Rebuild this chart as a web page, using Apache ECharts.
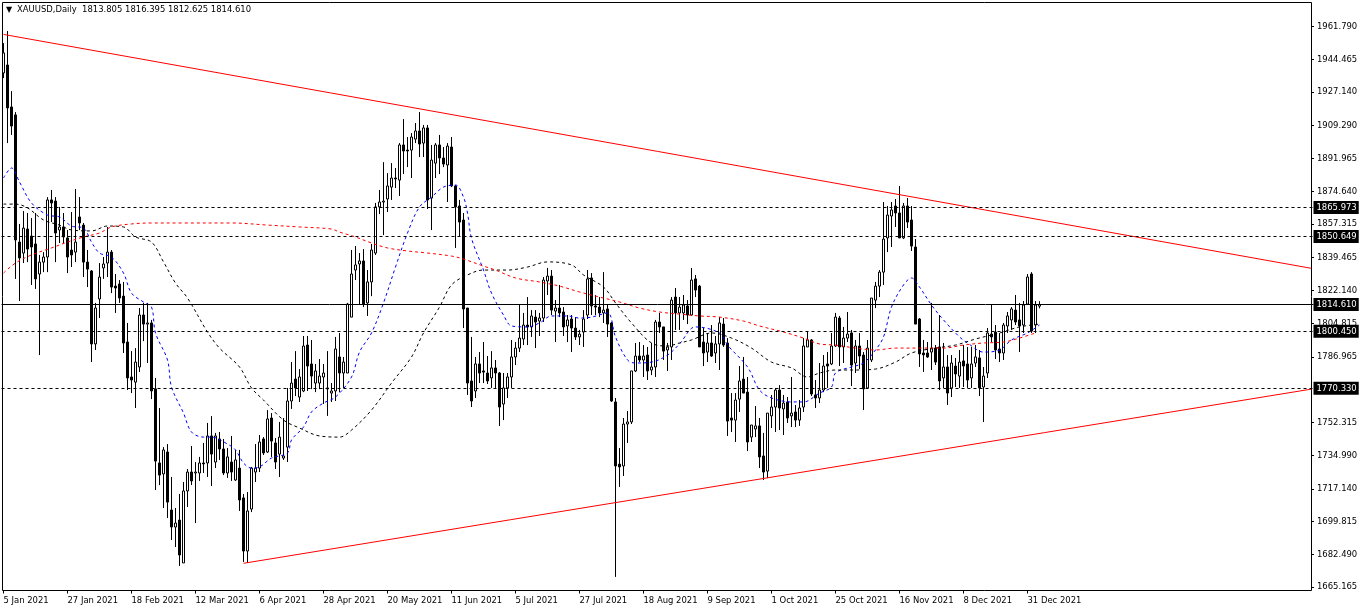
<!DOCTYPE html>
<html>
<head>
<meta charset="utf-8">
<title>XAUUSD,Daily</title>
<script src="https://cdn.jsdelivr.net/npm/echarts@6/dist/echarts.min.js"></script>
<style>
  html, body { margin: 0; padding: 0; background: #fff; }
  #chart { width: 1362px; height: 611px; }
</style>
</head>
<body>
<div id="chart"></div>
<script>
// tick labels
const dateLabels = ['5 Jan 2021', '27 Jan 2021', '18 Feb 2021', '12 Mar 2021', '6 Apr 2021', '28 Apr 2021', '20 May 2021', '11 Jun 2021', '5 Jul 2021', '27 Jul 2021', '18 Aug 2021', '9 Sep 2021', '1 Oct 2021', '25 Oct 2021', '16 Nov 2021', '8 Dec 2021', '31 Dec 2021'];
const priceTicks = [1961.79, 1944.465, 1927.14, 1909.29, 1891.965, 1874.64, 1857.315, 1839.465, 1822.14, 1804.815, 1786.965, 1752.315, 1734.99, 1717.14, 1699.815, 1682.49, 1665.165];

// levels drawn across the chart
const dashedLevels = [1865.973, 1850.649, 1800.45, 1770.33];
const lastPrice = 1814.61;

// daily bars: open, close, low, high
const ohlc = [
  [1937.2,1947.8,1934.5,1953.0],[1941.4,1918.7,1900.1,1959.4],[1919.2,1909.1,1904.4,1927.6],[1915.0,1848.8,1828.2,1916.5],
  [1847.7,1839.3,1816.5,1857.3],[1841.9,1855.1,1836.6,1864.1],[1854.6,1844.0,1837.1,1863.1],[1850.9,1845.1,1825.0,1860.4],
  [1846.7,1828.2,1822.9,1863.1],[1830.8,1837.1,1787.9,1840.9],[1837.1,1839.8,1831.8,1842.4],[1839.8,1870.0,1831.8,1871.5],
  [1870.0,1868.4,1858.3,1875.3],[1869.4,1852.5,1837.1,1871.5],[1854.1,1855.7,1847.2,1866.3],[1855.7,1850.4,1847.2,1863.1],
  [1849.9,1839.8,1831.3,1854.1],[1843.5,1840.9,1834.5,1863.6],[1842.4,1847.7,1837.1,1875.8],[1861.0,1857.8,1854.1,1871.5],
  [1856.7,1837.1,1829.2,1857.8],[1837.1,1833.4,1823.9,1843.5],[1832.4,1793.8,1784.2,1832.9],[1793.8,1812.8,1790.6,1815.5],
  [1817.6,1829.2,1807.5,1836.6],[1834.0,1836.1,1828.2,1839.8],[1836.6,1842.4,1829.2,1855.7],[1842.4,1823.9,1820.7,1843.5],
  [1824.4,1823.4,1810.2,1830.8],[1825.5,1818.1,1815.5,1827.6],[1819.1,1794.3,1789.0,1826.6],[1794.8,1775.8,1769.4,1804.9],
  [1776.3,1774.7,1767.8,1790.0],[1773.6,1784.2,1759.9,1791.6],[1781.6,1809.1,1778.9,1812.8],[1809.1,1804.3,1795.3,1815.5],
  [1804.3,1804.9,1783.7,1815.5],[1804.9,1768.9,1764.6,1806.5],[1770.0,1731.8,1716.5,1775.8],[1730.8,1724.4,1719.1,1759.9],
  [1725.0,1737.7,1707.0,1739.2],[1736.6,1710.1,1701.7,1740.8],[1705.9,1696.9,1690.0,1723.4],[1696.9,1699.0,1686.3,1707.0],
  [1700.6,1682.1,1676.3,1714.4],[1677.9,1716.0,1677.9,1720.7],[1716.0,1726.0,1707.5,1727.6],[1726.0,1721.3,1719.1,1739.8],
  [1725.5,1726.0,1699.0,1731.3],[1725.5,1730.8,1721.3,1734.0],[1730.8,1730.3,1725.5,1741.4],[1730.8,1745.1,1723.4,1752.0],
  [1745.1,1735.5,1718.6,1755.6],[1731.3,1745.1,1728.1,1746.7],[1743.5,1738.2,1732.4,1747.2],[1738.2,1725.5,1724.4,1743.5],
  [1725.5,1734.0,1722.9,1738.7],[1731.3,1726.0,1721.3,1745.1],[1721.8,1732.4,1721.3,1737.7],[1728.1,1711.2,1705.4,1737.7],
  [1712.3,1684.2,1678.4,1714.4],[1684.2,1705.4,1677.9,1715.4],[1706.4,1728.1,1704.8,1728.7],[1726.0,1728.1,1720.7,1740.8],
  [1728.1,1741.9,1726.0,1745.6],[1743.5,1736.1,1735.0,1744.5],[1736.6,1754.1,1736.1,1758.8],[1754.6,1742.4,1734.0,1757.2],
  [1741.4,1731.3,1727.6,1744.0],[1735.5,1744.5,1723.4,1752.5],[1733.4,1734.5,1732.4,1754.6],[1739.2,1763.6,1731.3,1770.5],
  [1763.6,1773.1,1759.4,1784.2],[1775.2,1770.5,1766.2,1790.0],[1765.7,1776.3,1763.1,1780.5],[1768.9,1792.7,1768.3,1798.0],
  [1793.2,1782.1,1768.9,1798.0],[1783.2,1776.8,1769.9,1795.9],[1773.1,1779.5,1768.3,1783.2],[1773.1,1776.8,1769.9,1785.8],
  [1776.3,1778.4,1762.0,1783.2],[1770.5,1770.0,1755.7,1790.0],[1767.8,1768.9,1763.1,1773.1],[1768.9,1791.1,1763.6,1797.5],
  [1786.9,1778.4,1768.3,1799.6],[1778.4,1784.2,1770.5,1786.9],[1778.4,1814.9,1778.4,1815.5],[1808.0,1830.8,1808.0,1843.5],
  [1832.9,1835.6,1827.6,1845.6],[1836.1,1837.7,1814.9,1841.9],[1837.7,1814.9,1813.3,1844.0],[1815.5,1826.6,1808.6,1832.9],
  [1826.6,1843.5,1819.1,1846.7],[1841.9,1866.3,1840.9,1868.4],[1866.3,1868.9,1862.5,1875.3],[1868.9,1869.4,1851.4,1890.0],
  [1870.5,1877.4,1863.6,1884.2],[1876.8,1881.6,1870.0,1889.5],[1881.6,1881.1,1876.3,1886.9],[1880.5,1899.1,1872.1,1900.1],
  [1899.1,1895.9,1883.7,1912.8],[1896.4,1895.9,1887.4,1903.3],[1896.4,1903.3,1881.6,1905.4],[1902.2,1906.5,1900.1,1910.7],
  [1906.5,1899.6,1892.7,1916.5],[1900.1,1908.1,1892.7,1909.7],[1908.1,1870.0,1865.2,1909.7],[1871.0,1891.1,1854.1,1899.1],
  [1889.5,1899.1,1881.6,1900.1],[1899.1,1892.2,1883.7,1904.4],[1892.2,1889.0,1887.4,1898.0],[1888.5,1898.5,1868.9,1900.1],
  [1898.0,1877.4,1876.8,1903.3],[1877.4,1866.3,1844.6,1877.9],[1866.8,1858.3,1850.9,1870.0],[1859.4,1812.3,1802.2,1863.1],
  [1812.8,1773.1,1766.8,1812.8],[1774.2,1763.6,1760.4,1797.5],[1768.9,1783.2,1765.2,1786.9],[1783.2,1778.4,1773.1,1789.5],
  [1779.5,1778.9,1773.1,1794.8],[1778.4,1774.2,1772.6,1787.4],[1775.8,1781.1,1770.5,1790.0],[1781.1,1778.4,1770.5,1785.3],
  [1778.4,1760.4,1750.4,1778.9],[1762.0,1770.5,1753.5,1778.4],[1770.5,1776.3,1765.2,1778.4],[1776.3,1786.9,1770.5,1795.9],
  [1786.9,1791.6,1782.6,1794.8],[1791.6,1796.9,1789.5,1814.4],[1796.4,1803.8,1793.2,1810.2],[1803.8,1802.8,1793.2,1818.6],
  [1802.8,1808.6,1797.5,1811.7],[1808.0,1805.4,1791.6,1811.7],[1805.9,1807.5,1798.0,1810.2],[1807.5,1827.6,1805.4,1829.2],
  [1827.1,1829.7,1819.7,1834.0],[1829.7,1811.7,1809.1,1832.9],[1811.2,1812.8,1794.8,1817.0],[1812.8,1810.2,1808.0,1825.0],
  [1810.7,1802.8,1798.0,1813.3],[1803.3,1806.5,1794.8,1809.1],[1807.0,1802.2,1789.5,1809.1],[1802.2,1797.5,1795.9,1808.0],
  [1797.5,1799.0,1793.2,1801.2],[1800.1,1807.0,1792.2,1811.7],[1809.1,1828.2,1807.0,1832.9],[1828.7,1813.9,1809.1,1831.3],
  [1813.9,1813.3,1809.1,1819.7],[1813.3,1810.2,1808.0,1818.6],[1810.2,1811.7,1804.9,1831.8],[1812.3,1804.3,1797.5,1814.4],
  [1804.9,1763.6,1763.1,1805.4],[1763.1,1729.2,1670.5,1765.2],[1730.2,1728.7,1718.1,1738.7],[1729.2,1751.4,1723.9,1754.6],
  [1751.4,1752.5,1741.4,1758.3],[1752.5,1779.5,1751.4,1779.5],[1779.5,1787.4,1778.9,1794.3],[1787.4,1785.3,1784.2,1794.8],
  [1785.3,1787.4,1776.3,1793.2],[1787.9,1779.5,1774.7,1792.2],[1780.0,1781.6,1777.3,1794.3],[1781.6,1805.4,1776.3,1806.5],
  [1805.4,1802.8,1799.6,1810.2],[1802.8,1790.0,1785.3,1802.8],[1790.6,1792.2,1779.5,1794.3],[1792.2,1817.0,1785.3,1818.6],
  [1818.6,1810.2,1801.2,1823.4],[1810.2,1813.3,1801.2,1818.6],[1810.2,1814.4,1806.5,1819.7],[1813.9,1809.1,1804.3,1817.0],
  [1809.1,1827.6,1808.6,1834.0],[1828.2,1822.3,1818.6,1830.3],[1824.4,1792.2,1792.2,1825.0],[1794.8,1789.0,1782.1,1802.2],
  [1789.5,1794.3,1784.2,1799.6],[1794.3,1787.4,1786.9,1803.8],[1789.0,1793.8,1783.7,1798.0],[1793.8,1804.9,1780.0,1808.0],
  [1804.3,1793.2,1792.2,1807.5],[1794.3,1753.0,1745.1,1796.9],[1754.6,1753.5,1747.2,1767.8],[1753.5,1764.1,1741.9,1767.8],
  [1764.6,1774.2,1757.8,1782.1],[1775.2,1767.8,1767.8,1786.9],[1768.3,1741.9,1737.1,1776.3],[1744.5,1750.9,1741.9,1750.9],
  [1748.8,1750.4,1744.5,1760.9],[1750.4,1734.0,1728.1,1754.6],[1734.5,1726.0,1721.8,1746.7],[1726.5,1757.2,1722.8,1757.2],
  [1755.7,1760.4,1749.3,1766.8],[1760.4,1769.4,1747.2,1770.5],[1769.4,1759.9,1748.2,1772.0],[1759.4,1762.5,1745.6,1766.8],
  [1763.1,1754.6,1752.0,1765.7],[1755.7,1757.2,1749.8,1776.3],[1757.8,1753.5,1749.8,1761.5],[1753.5,1759.9,1750.4,1764.1],
  [1760.4,1792.7,1757.8,1796.9],[1792.2,1795.9,1792.2,1800.6],[1795.9,1767.3,1766.2,1796.4],[1766.8,1765.2,1759.9,1774.7],
  [1765.2,1769.4,1762.5,1783.7],[1769.4,1782.1,1768.3,1787.9],[1783.2,1782.1,1770.5,1789.5],[1783.2,1792.7,1782.6,1799.6],
  [1792.7,1808.0,1792.2,1810.2],[1807.5,1792.2,1782.1,1808.6],[1792.2,1796.9,1783.7,1802.8],[1796.9,1799.0,1794.8,1810.7],
  [1799.6,1782.6,1771.5,1801.2],[1783.7,1792.7,1778.4,1795.9],[1792.7,1787.4,1780.5,1799.6],[1787.9,1770.0,1758.8,1789.5],
  [1770.5,1791.6,1770.5,1795.9],[1785.3,1818.1,1784.2,1818.1],[1817.0,1824.4,1812.8,1826.6],[1824.4,1831.8,1818.6,1832.9],
  [1831.8,1849.3,1825.0,1868.9],[1849.9,1862.0,1842.4,1866.8],[1861.5,1864.7,1845.1,1868.9],[1866.8,1863.1,1855.7,1870.5],
  [1863.1,1849.9,1849.9,1877.4],[1849.9,1866.8,1849.3,1868.4],[1866.8,1858.3,1855.1,1871.0],[1859.4,1845.6,1843.0,1866.8],
  [1845.1,1804.3,1804.3,1849.3],[1807.0,1788.5,1781.6,1807.5],[1789.0,1788.0,1779.0,1795.9],[1789.0,1786.9,1786.4,1794.8],
  [1789.5,1791.6,1780.0,1815.5],[1791.6,1784.2,1782.6,1793.2],[1792.2,1774.2,1769.4,1809.1],[1775.8,1781.6,1770.5,1794.3],
  [1781.6,1767.8,1761.5,1787.9],[1770.5,1783.7,1765.7,1787.9],[1782.1,1777.9,1771.0,1786.4],[1776.8,1784.2,1770.5,1790.6],
  [1784.8,1782.1,1771.0,1793.2],[1783.2,1774.7,1770.5,1792.2],[1775.8,1783.2,1770.5,1792.2],[1783.7,1786.9,1781.6,1793.2],
  [1786.4,1770.5,1766.2,1790.6],[1771.0,1776.8,1752.5,1781.6],[1778.4,1799.6,1775.8,1802.2],[1799.0,1797.5,1794.8,1814.4],
  [1800.1,1790.6,1785.8,1803.8],[1791.1,1789.0,1784.2,1799.6],[1789.0,1803.8,1785.3,1804.9],[1803.3,1808.6,1799.6,1810.7],
  [1806.5,1812.3,1801.2,1813.3],[1811.7,1805.4,1803.8,1819.7],[1806.5,1803.3,1789.5,1815.5],[1803.8,1814.4,1799.6,1816.5],
  [1814.9,1829.2,1814.4,1830.8],[1830.8,1800.6,1799.6,1831.8],[1803.8,1814.4,1799.6,1816.5],[1813.805,1814.61,1812.625,1816.395]
];

// moving averages, sampled as [bar index, price]
const blueMA = [[0,1881.6],[2,1886.9],[4,1879.5],[7,1868.4],[11,1862.0],[14,1861.0],[17,1856.2],[20,1855.1],[22,1847.7],[24,1841.9],[27,1839.8],[30,1831.3],[32,1820.7],[35,1816.0],[37,1813.3],[38,1799.6],[41,1785.3],[42,1771.0],[45,1757.2],[47,1747.2],[50,1744.5],[52,1744.5],[56,1740.8],[58,1737.7],[60,1730.8],[62,1728.1],[64,1728.7],[67,1733.4],[71,1736.1],[72,1743.0],[75,1749.8],[77,1757.8],[80,1762.5],[83,1765.7],[87,1776.3],[89,1789.5],[92,1799.6],[95,1815.5],[98,1834.5],[101,1852.5],[104,1866.3],[107,1871.5],[110,1876.8],[113,1877.9],[115,1871.5],[116,1863.1],[117,1849.8],[120,1832.9],[122,1820.7],[125,1809.1],[127,1803.3],[131,1802.8],[134,1804.9],[137,1808.6],[141,1808.6],[144,1807.5],[147,1808.0],[151,1810.2],[153,1797.5],[156,1785.3],[158,1783.7],[162,1784.2],[166,1787.9],[169,1793.8],[173,1802.8],[179,1799.6],[181,1793.2],[186,1781.6],[189,1769.4],[192,1765.2],[197,1763.1],[200,1763.1],[204,1767.8],[207,1771.0],[208,1778.4],[212,1781.6],[215,1783.7],[218,1790.6],[220,1797.5],[222,1813.3],[225,1825.0],[227,1828.7],[229,1823.9],[232,1814.4],[235,1806.5],[239,1797.5],[241,1794.3],[245,1789.5],[249,1790.6],[252,1795.9],[256,1799.6],[259,1803.8]];
const blackMA = [[0,1867.8],[3,1867.8],[6,1865.8],[10,1859.4],[14,1856.7],[17,1854.1],[22,1853.6],[26,1856.2],[30,1855.7],[33,1850.4],[37,1847.7],[40,1837.2],[43,1826.0],[46,1818.1],[51,1800.1],[54,1791.6],[59,1781.6],[62,1770.5],[65,1764.1],[70,1753.5],[74,1749.3],[79,1745.1],[84,1744.5],[87,1748.2],[92,1758.8],[97,1773.1],[102,1786.9],[105,1799.6],[109,1813.3],[112,1825.0],[116,1830.3],[120,1832.9],[126,1832.9],[131,1834.5],[136,1837.2],[142,1835.6],[145,1830.3],[150,1823.9],[153,1815.5],[157,1804.9],[162,1794.3],[166,1792.7],[169,1794.3],[172,1795.9],[177,1799.6],[182,1796.9],[187,1791.6],[192,1784.2],[197,1781.1],[201,1776.3],[204,1778.4],[208,1780.0],[213,1780.0],[218,1780.5],[223,1784.2],[227,1789.0],[233,1791.6],[238,1793.2],[243,1796.4],[249,1799.6],[254,1802.8],[259,1804.3]];
const redMA = [[0,1831.3],[3,1836.6],[7,1840.9],[12,1844.6],[16,1847.7],[20,1850.4],[24,1852.5],[27,1855.7],[32,1857.3],[37,1857.8],[45,1857.8],[57,1857.8],[66,1856.7],[74,1855.7],[82,1854.6],[84,1853.0],[88,1850.4],[92,1847.2],[96,1844.6],[101,1843.0],[106,1841.9],[112,1840.3],[115,1838.7],[120,1835.0],[123,1832.9],[128,1828.7],[134,1826.6],[139,1824.4],[144,1821.3],[149,1818.6],[154,1816.0],[159,1812.8],[164,1810.7],[169,1809.6],[174,1808.6],[179,1808.0],[185,1805.9],[189,1803.3],[195,1800.1],[200,1796.9],[204,1793.8],[208,1793.2],[213,1791.6],[218,1790.6],[223,1791.6],[229,1791.6],[235,1791.6],[240,1793.2],[245,1794.3],[250,1794.8],[254,1796.9],[258,1799.6]];

// trend lines, [bar index, price] at each end
const upperTrend = [[0,1957.6],[327,1833.8]];
const lowerTrend = [[60,1677.7],[327,1769.9]];

// one label every 16 bars, the axis runs on past the last bar
const barsPerLabel = 16;
const categories = [];
for (let i = 0; i < 328; i++) {
  categories.push(i % barsPerLabel === 0 ? (dateLabels[i / barsPerLabel] || '') : '');
}

const FONT = '"DejaVu Sans Condensed", "Liberation Sans", sans-serif';
const FONT_SIZE = 9.4;

function maSeries(data, color) {
  return {
    type: 'line',
    data: data,
    smooth: 0.35,
    showSymbol: false,
    silent: true,
    lineStyle: { color: color, width: 1, type: [3, 3] },
    z: 4
  };
}

function trendSeries(data) {
  return {
    type: 'line',
    data: data,
    showSymbol: false,
    silent: true,
    lineStyle: { color: '#ff0000', width: 1 },
    z: 5
  };
}

function levelLine(value, type) {
  return {
    yAxis: value,
    lineStyle: { color: '#000', width: 1, type: type },
    label: {
      show: true,
      position: 'end',
      distance: 0,
      formatter: value.toFixed(3),
      color: '#fff',
      backgroundColor: '#000',
      fontFamily: FONT,
      fontSize: FONT_SIZE,
      padding: [2, 2, 2, 3]
    }
  };
}

const chart = echarts.init(document.getElementById('chart'), null, { renderer: 'canvas' });

chart.setOption({
  animation: false,
  backgroundColor: '#fff',
  title: [
    { text: '▼', left: 6, top: 6, padding: 0, textStyle: { fontSize: 8, fontWeight: 'normal', color: '#000', fontFamily: 'DejaVu Sans' } },
    { text: 'XAUUSD,Daily  1813.805 1816.395 1812.625 1814.610', left: 17, top: 5, padding: 0, textStyle: { fontSize: FONT_SIZE, fontWeight: 'normal', color: '#000', fontFamily: FONT } }
  ],
  grid: { left: 1.5, top: 2.5, width: 1312, height: 588, containLabel: false, outerBoundsMode: 'none' },
  xAxis: {
    type: 'category',
    data: categories,
    boundaryGap: true,
    axisLine: { show: false },
    axisTick: {
      show: true,
      alignWithLabel: true,
      length: 3,
      interval: function (i) { return i % barsPerLabel === 0 && i <= 256; },
      lineStyle: { color: '#000' }
    },
    axisLabel: {
      interval: function (i) { return i % barsPerLabel === 0 && i <= 256; },
      align: 'left',
      margin: 6,
      color: '#000',
      fontFamily: FONT,
      fontSize: FONT_SIZE,
      hideOverlap: false
    },
    splitLine: { show: false }
  },
  yAxis: {
    type: 'value',
    position: 'right',
    offset: -2.5,
    min: 1663.31,
    max: 1974.49,
    axisLine: { show: false },
    axisTick: { show: true, length: 3, customValues: priceTicks, lineStyle: { color: '#000' } },
    axisLabel: {
      customValues: priceTicks,
      formatter: function (v) { return v.toFixed(3); },
      margin: 6,
      color: '#000',
      fontFamily: FONT,
      fontSize: FONT_SIZE
    },
    splitLine: { show: false }
  },
  graphic: [{
    type: 'rect',
    shape: { x: 2.5, y: 2.5, width: 1309, height: 588 },
    style: { fill: null, stroke: '#000', lineWidth: 1 },
    silent: true,
    z: 100
  }],
  series: [
    {
      type: 'candlestick',
      data: ohlc,
      barWidth: 3,
      silent: true,
      itemStyle: { color: '#fff', color0: '#000', borderColor: '#000', borderColor0: '#000', borderWidth: 1 },
      markLine: {
        silent: true,
        symbol: 'none',
        animation: false,
        z: 6,
        data: dashedLevels.map(function (v) { return levelLine(v, [3, 3]); }).concat([levelLine(lastPrice, 'solid')])
      },
      z: 3
    },
    maSeries(blueMA, '#0000ff'),
    maSeries(blackMA, '#000'),
    maSeries(redMA, '#ff0000'),
    trendSeries(upperTrend),
    trendSeries(lowerTrend)
  ]
});
</script>
</body>
</html>
